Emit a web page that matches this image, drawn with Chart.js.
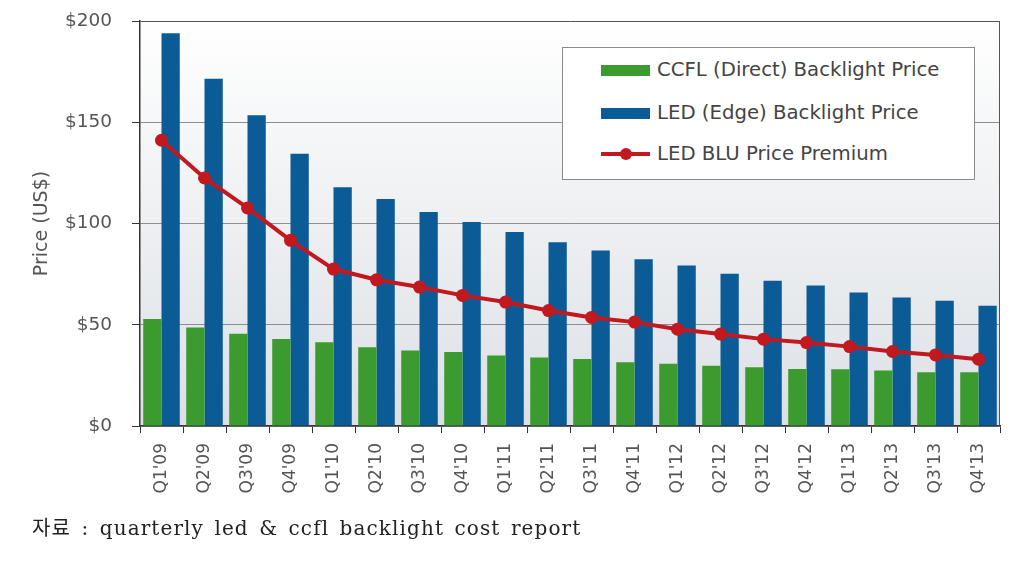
<!DOCTYPE html>
<html>
<head>
<meta charset="utf-8">
<script src="https://cdn.jsdelivr.net/npm/chart.js@4/dist/chart.umd.min.js"></script>
<style>
  html, body { margin: 0; padding: 0; background: #fff; }
  #wrap { position: relative; width: 1036px; height: 572px; }
  #legend {
    position: absolute; left: 562px; top: 47px; width: 411px; height: 131px;
    border: 1px solid #8a8a8a; background: #fff;
    font-family: "DejaVu Sans", Verdana, sans-serif; font-size: 19.7px; color: #444;
  }
  .item { position: absolute; left: 38px; height: 24px; line-height: 24px; white-space: nowrap; }
  .swatch { position: absolute; left: 0; top: 7px; width: 49px; height: 11px; }
  .swatch.line { top: 10px; height: 4px; }
  .swatch.line i { position: absolute; left: 19px; top: -4px; width: 12px; height: 12px; border-radius: 50%; }
  .item span { position: absolute; left: 56px; }
  #caption {
    position: absolute; left: 32px; top: 512px;
    font-family: "DejaVu Serif", "Noto Sans CJK KR", serif; font-size: 20px; color: #222;
    letter-spacing: 1.1px; word-spacing: 3px; white-space: nowrap;
  }
</style>
</head>
<body>
<div id="wrap">
  <canvas id="chart" width="1036" height="572"></canvas>
  <div id="legend"></div>
  <div id="caption">자료 : quarterly led &amp; ccfl backlight cost report</div>
</div>
<script>
// quarters on the x axis
const quarters = ["Q1'09", "Q2'09", "Q3'09", "Q4'09", "Q1'10", "Q2'10", "Q3'10", "Q4'10",
  "Q1'11", "Q2'11", "Q3'11", "Q4'11", "Q1'12", "Q2'12", "Q3'12", "Q4'12",
  "Q1'13", "Q2'13", "Q3'13", "Q4'13"];

// prices in US$
const ccflPrice = [52.9, 48.6, 45.5, 43.0, 41.4, 38.9, 37.3, 36.5, 34.8, 33.8,
  33.1, 31.5, 30.7, 29.8, 29.0, 28.2, 28.0, 27.4, 26.6, 26.5];
const ledPrice = [194, 171.5, 153.5, 134.4, 117.9, 112.1, 105.7, 100.8, 95.8, 90.7,
  86.7, 82.4, 79.3, 75.2, 71.7, 69.4, 65.9, 63.5, 61.8, 59.4];
const premium = [141.1, 122.5, 107.7, 91.7, 77.5, 72.2, 68.6, 64.5, 61.2, 57.0,
  53.6, 51.3, 47.8, 45.4, 42.9, 41.2, 39.2, 36.8, 35.1, 33.0];

const yTicks = [0, 50, 100, 150, 200];

const tickFont = { family: 'DejaVu Sans', size: 18.5 };

// plot background gradient and right frame line
const plotFrame = {
  id: 'plotFrame',
  beforeDraw(chart) {
    const { ctx, chartArea: a } = chart;
    const g = ctx.createLinearGradient(0, a.top, 0, a.bottom);
    g.addColorStop(0, '#ffffff');
    g.addColorStop(1, '#dce0e5');
    ctx.save();
    ctx.fillStyle = g;
    ctx.fillRect(a.left, a.top, a.right - a.left, a.bottom - a.top);
    ctx.restore();
  },
  afterDraw(chart) {
    const { ctx, chartArea: a } = chart;
    ctx.save();
    ctx.strokeStyle = '#555';
    ctx.lineWidth = 1;
    ctx.beginPath();
    ctx.moveTo(a.right - 0.5, a.top);
    ctx.lineTo(a.right - 0.5, a.bottom);
    ctx.stroke();
    ctx.restore();
  }
};

const chart = new Chart(document.getElementById('chart'), {
  type: 'bar',
  data: {
    labels: quarters,
    datasets: [
      {
        type: 'line',
        label: 'LED BLU Price Premium',
        data: premium,
        borderColor: '#c1191f',
        backgroundColor: '#c1191f',
        borderWidth: 4,
        pointRadius: 6.5,
        pointBorderWidth: 0,
        tension: 0,
        order: 0
      },
      {
        label: 'CCFL (Direct) Backlight Price',
        data: ccflPrice,
        backgroundColor: '#3b9b2f',
        categoryPercentage: 0.85,
        barPercentage: 1.0,
        order: 1
      },
      {
        label: 'LED (Edge) Backlight Price',
        data: ledPrice,
        backgroundColor: '#0b5b96',
        categoryPercentage: 0.85,
        barPercentage: 1.0,
        order: 1
      }
    ]
  },
  options: {
    responsive: false,
    animation: false,
    layout: {
      padding: { top: 21, right: 36, left: 0, bottom: 46 }
    },
    scales: {
      x: {
        grid: {
          display: true,
          offset: true,
          drawOnChartArea: false,
          tickLength: 7,
          tickColor: '#333'
        },
        border: { color: '#333', width: 1.5 },
        ticks: {
          font: { family: 'DejaVu Sans', size: 17 },
          color: '#555',
          maxRotation: 90,
          minRotation: 90,
          padding: 10,
          autoSkip: false
        },
        afterFit: (scale) => { scale.height = 100; }
      },
      y: {
        min: 0,
        max: 200,
        afterBuildTicks: (scale) => {
          scale.ticks = yTicks.map(v => ({ value: v }));
        },
        grid: {
          color: (c) => (c.tick && c.tick.value === 200 ? '#555' : '#8e8e8e'),
          tickColor: '#333',
          tickLength: 8
        },
        border: { color: '#333', width: 1.5 },
        ticks: {
          font: tickFont,
          color: '#555',
          padding: 20,
          callback: (v) => `$${v}`
        },
        title: {
          display: true,
          text: 'Price (US$)',
          font: { family: 'DejaVu Sans', size: 19 },
          color: '#555',
          padding: { top: 31, bottom: 0 }
        },
        afterFit: (scale) => {
          scale.width = 140;
          // tick padding should not push the plot down
          scale.paddingTop = 10;
          scale.paddingBottom = 10;
        }
      }
    },
    plugins: {
      legend: { display: false },
      tooltip: { enabled: false }
    }
  },
  plugins: [plotFrame]
});

// HTML legend built from the datasets, in the reference's order
const legendEl = document.getElementById('legend');
const legendOrder = [1, 2, 0];
const rowTops = [10, 53, 94];
legendOrder.forEach((idx, i) => {
  const ds = chart.data.datasets[idx];
  const item = document.createElement('div');
  item.className = 'item';
  item.style.top = rowTops[i] + 'px';
  const sw = document.createElement('div');
  if (ds.type === 'line') {
    sw.className = 'swatch line';
    sw.style.background = ds.borderColor;
    const dot = document.createElement('i');
    dot.style.background = ds.borderColor;
    sw.appendChild(dot);
  } else {
    sw.className = 'swatch';
    sw.style.background = ds.backgroundColor;
  }
  const txt = document.createElement('span');
  txt.textContent = ds.label;
  item.appendChild(sw);
  item.appendChild(txt);
  legendEl.appendChild(item);
});
</script>
</body>
</html>
